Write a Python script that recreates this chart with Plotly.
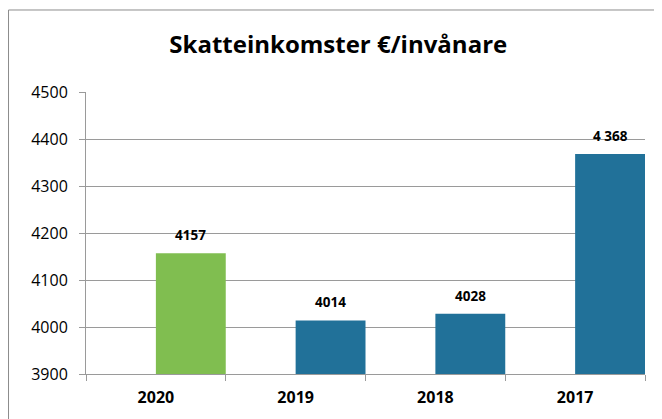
import plotly.graph_objects as go

# data
years = ["2020", "2019", "2018", "2017"]
values = [4157, 4014, 4028, 4368]
labels = ["4157", "4014", "4028", "4 368"]
bar_colors = ["#80BE50", "#217199", "#217199", "#217199"]
y_base = 3900

fig = go.Figure(go.Bar(
    x=years, y=[v - y_base for v in values],
    base=y_base,
    marker=dict(color=bar_colors, line=dict(width=0)),
    width=0.5, offset=0,
    hoverinfo="skip",
))

# value labels above the bars (bars sit in right half of each category)
for i, (v, lab) in enumerate(zip(values, labels)):
    fig.add_annotation(x=i + 0.25, y=v, text="<b>%s</b>" % lab, showarrow=False,
                       yshift=7, yanchor="bottom",
                       font=dict(family="Open Sans", size=13.5, color="#000000"))

# page body has an 8px margin, so the figure is 8px smaller
fig.update_layout(
    width=654, height=411,
    margin=dict(l=78, r=17, t=84, b=45),
    paper_bgcolor="white", plot_bgcolor="white",
    showlegend=False,
    title=dict(text="<b>Skatteinkomster €/invånare</b>",
               x=0.505, xref="container", xanchor="center",
               y=0.912, yref="container", yanchor="middle",
               font=dict(family="Open Sans", size=24, color="#000000")),
    xaxis=dict(type="category", categoryorder="array", categoryarray=years,
               range=[-0.5, len(years) - 0.5],
               showline=True, linecolor="#9A9A9A", linewidth=1,
               ticks="outside", tickson="boundaries", ticklen=6, tickcolor="#9A9A9A",
               ticklabelstandoff=9,
               tickfont=dict(family="Open Sans", size=16, color="#000000", weight="bold"),
               showgrid=False),
    yaxis=dict(range=[3900, 4500], dtick=100, tick0=3900,
               showline=True, linecolor="#9A9A9A", linewidth=1,
               ticks="outside", ticklen=6, tickcolor="#9A9A9A",
               ticklabelstandoff=8,
               gridcolor="#9A9A9A", gridwidth=1,
               tickfont=dict(family="Open Sans", size=16, color="#000000"),
               zeroline=False),
    # outer chart frame, running off the right and bottom edges
    shapes=[dict(type="rect", xref="paper", yref="paper",
                 x0=-0.1386, x1=1.1, y0=-0.2, y1=1.2908,
                 line=dict(color="#8C8C8C", width=1), layer="below")],
)

fig.write_html("out.html")
